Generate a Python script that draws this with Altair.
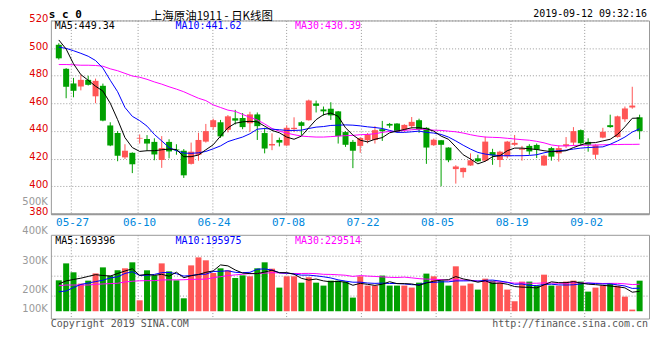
import altair as alt
import pandas as pd

# ---------------- data ----------------
dates = ["05-23", "05-24", "05-27", "05-28", "05-29", "05-30", "05-31",
         "06-03", "06-04", "06-05", "06-06", "06-10", "06-11", "06-12", "06-13", "06-14",
         "06-17", "06-18", "06-19", "06-20", "06-21", "06-24", "06-25", "06-26", "06-27", "06-28",
         "07-01", "07-02", "07-03", "07-04", "07-05", "07-08", "07-09", "07-10", "07-11", "07-12",
         "07-15", "07-16", "07-17", "07-18", "07-19", "07-22", "07-23", "07-24", "07-25", "07-26",
         "07-29", "07-30", "07-31", "08-01", "08-02", "08-05", "08-06", "08-07", "08-08", "08-09",
         "08-12", "08-13", "08-14", "08-15", "08-16", "08-19", "08-20", "08-21", "08-22", "08-23",
         "08-26", "08-27", "08-28", "08-29", "08-30", "09-02", "09-03", "09-04", "09-05", "09-06",
         "09-09", "09-10", "09-11", "09-12"]

open_ = [502.4, 485.0, 474.4, 472.2, 477.0, 465.1, 472.7, 444.0, 438.5, 420.9,
         424.2, 434.5, 434.2, 432.1, 419.0, 432.1, 426.6, 425.7, 416.2, 422.8,
         432.3, 442.8, 446.3, 440.9, 449.2, 449.4, 445.6, 452.0, 438.5, 429.5,
         433.5, 429.5, 441.4, 446.3, 447.8, 459.9, 455.6, 456.1, 454.2, 439.2,
         432.1, 429.2, 433.3, 433.5, 441.3, 445.1, 445.4, 440.9, 443.5, 447.8,
         442.3, 429.7, 433.3, 428.0, 412.4, 410.2, 415.0, 420.2, 418.5, 424.7,
         419.0, 421.6, 430.0, 426.4, 429.2, 429.9, 415.0, 427.6, 423.8, 429.0,
         431.6, 440.6, 432.1, 422.8, 435.2, 444.2, 435.6, 448.5, 457.0, 449.9]
high = [503.5, 485.5, 478.4, 480.8, 480.0, 477.9, 474.3, 446.3, 439.9, 430.4,
        424.5, 437.5, 437.0, 434.7, 436.3, 434.0, 430.4, 426.9, 431.6, 438.7,
        445.1, 448.9, 448.0, 451.5, 455.3, 453.0, 453.9, 453.4, 442.3, 438.3,
        435.2, 444.0, 449.9, 447.0, 462.7, 462.0, 457.7, 460.8, 454.5, 439.9,
        433.5, 435.6, 438.5, 443.5, 447.3, 445.8, 445.6, 444.9, 450.1, 448.9,
        442.7, 434.5, 433.5, 428.2, 415.2, 413.5, 423.8, 422.8, 435.9, 427.1,
        425.7, 432.8, 437.1, 429.2, 430.4, 430.9, 422.8, 428.5, 429.5, 435.6,
        442.8, 441.1, 434.7, 430.4, 442.3, 451.8, 451.1, 457.7, 472.0, 451.8]
low = [491.7, 463.7, 464.4, 469.4, 472.9, 460.1, 447.0, 429.0, 418.1, 419.7,
       409.5, 430.9, 425.7, 418.8, 413.3, 420.2, 422.8, 406.0, 415.7, 418.5,
       431.6, 440.9, 435.0, 439.0, 444.7, 441.3, 439.4, 433.5, 423.8, 426.1,
       428.8, 429.2, 439.4, 437.1, 447.5, 453.4, 451.1, 448.0, 430.9, 428.5,
       413.1, 424.2, 431.1, 430.9, 432.8, 442.3, 439.2, 439.2, 441.8, 438.7,
       416.2, 429.2, 400.0, 417.4, 401.9, 406.2, 414.8, 417.4, 417.8, 415.5,
       413.8, 420.2, 429.2, 418.5, 422.8, 420.4, 414.8, 418.5, 417.8, 427.6,
       429.2, 429.2, 425.0, 419.7, 434.7, 442.3, 435.2, 446.6, 456.1, 434.0]
close = [492.6, 472.0, 469.1, 477.0, 473.4, 476.3, 447.5, 429.5, 422.1, 425.7,
         415.9, 435.0, 430.9, 423.0, 427.6, 425.2, 426.0, 407.9, 425.0, 433.5,
         439.9, 447.8, 436.1, 450.6, 447.5, 442.8, 452.0, 443.5, 427.3, 430.6,
         431.6, 442.3, 442.3, 443.7, 462.0, 458.2, 454.2, 451.3, 436.3, 430.0,
         425.7, 434.9, 437.5, 440.6, 439.9, 443.9, 439.4, 444.4, 446.6, 441.1,
         428.0, 433.7, 430.0, 418.8, 414.3, 413.3, 418.8, 418.1, 432.3, 422.3,
         425.0, 432.3, 431.4, 427.3, 425.2, 426.4, 422.1, 421.4, 427.6, 430.4,
         439.9, 431.1, 430.0, 429.7, 439.4, 442.8, 450.6, 456.3, 458.4, 439.9]

ma5 = [505.9, 499.3, 488.6, 480.8, 476.7, 472.4, 468.9, 460.1, 448.2, 435.2,
       428.0, 425.2, 425.7, 425.7, 426.4, 426.9, 426.6, 421.4, 421.4, 422.6,
       426.4, 430.0, 436.3, 442.3, 445.6, 446.6, 447.0, 446.6, 443.5, 440.4,
       438.7, 435.6, 434.0, 436.3, 442.3, 448.2, 451.8, 453.0, 450.6, 442.3,
       437.1, 433.3, 432.1, 434.0, 435.2, 438.7, 439.9, 441.1, 442.3, 442.3,
       441.6, 439.9, 436.3, 434.0, 428.5, 422.8, 419.7, 416.2, 418.1, 421.4,
       422.1, 425.7, 427.6, 427.6, 427.1, 426.6, 425.7, 425.0, 425.2, 425.7,
       428.0, 429.9, 431.4, 431.6, 432.8, 434.0, 437.5, 443.0, 449.2, 449.34]
ma10 = [500.7, 499.8, 498.1, 496.2, 494.1, 491.0, 485.5, 476.7, 468.4, 457.0,
        450.6, 447.5, 443.5, 437.5, 432.8, 428.0, 425.7, 424.0, 423.8, 424.2,
        425.2, 427.1, 429.2, 432.3, 434.0, 435.6, 438.0, 441.3, 441.8, 441.3,
        440.9, 440.4, 440.4, 440.6, 441.8, 442.8, 443.2, 444.0, 444.2, 444.4,
        444.2, 443.7, 443.0, 442.5, 441.8, 440.4, 439.0, 439.0, 439.4, 439.9,
        439.0, 438.5, 437.5, 435.6, 432.8, 429.7, 426.9, 424.5, 423.3, 422.6,
        422.1, 422.1, 422.1, 422.1, 422.3, 422.8, 424.2, 425.2, 425.7, 426.1,
        426.9, 427.6, 428.0, 428.3, 428.5, 430.4, 432.8, 435.6, 439.2, 441.62]
ma30 = [488.1, 488.1, 487.9, 487.6, 487.6, 487.4, 486.9, 485.0, 483.6, 481.7,
        479.8, 478.9, 477.4, 475.5, 473.9, 472.0, 470.3, 468.4, 466.0, 463.7,
        462.0, 458.9, 457.0, 455.1, 454.2, 452.0, 449.9, 448.0, 445.1, 441.8,
        439.9, 438.5, 437.3, 436.3, 435.9, 435.6, 435.6, 435.9, 436.3, 436.6,
        436.8, 437.3, 437.5, 438.0, 439.0, 439.7, 439.9, 440.4, 440.9, 441.3,
        441.1, 440.6, 440.4, 439.9, 439.4, 438.5, 437.3, 436.3, 435.6, 435.4,
        435.2, 434.7, 434.2, 433.7, 433.3, 432.5, 431.4, 429.9, 429.2, 429.2,
        429.5, 429.7, 429.7, 429.9, 430.0, 430.1, 430.2, 430.3, 430.3, 430.39]

# volumes in thousands of lots
vol_k = [263, 407, 331, 235, 260, 322, 373, 303, 348, 365,
         416, 93, 348, 305, 407, 339, 263, 110, 390, 458,
         433, 325, 365, 348, 283, 305, 297, 365, 416, 362,
         201, 297, 297, 243, 288, 243, 218, 260, 260, 252,
         116, 297, 218, 218, 303, 218, 218, 218, 201, 243,
         320, 297, 260, 218, 382, 218, 235, 184, 277, 260,
         243, 184, 85, 252, 252, 218, 311, 218, 218, 252,
         260, 252, 167, 201, 218, 235, 218, 124, 14, 260]
vma5_k = [232, 258, 270, 281, 296, 311, 304, 299, 321, 342,
          361, 305, 314, 305, 314, 298, 332, 285, 302, 312,
          331, 343, 394, 386, 351, 325, 320, 320, 333, 349,
          328, 328, 315, 280, 265, 274, 258, 250, 254, 247,
          221, 237, 229, 220, 230, 251, 235, 235, 232, 220,
          240, 256, 264, 268, 295, 275, 263, 247, 259, 235,
          240, 230, 210, 205, 203, 198, 224, 250, 243, 243,
          252, 240, 230, 226, 220, 215, 208, 199, 162, 169.396]
vma10_k = [166, 172, 202, 228, 240, 252, 264, 283, 293, 321,
           336, 305, 306, 313, 328, 330, 319, 299, 304, 313,
           315, 338, 340, 344, 331, 328, 331, 357, 360, 350,
           327, 324, 317, 307, 307, 301, 293, 283, 267, 256,
           247, 247, 240, 237, 239, 236, 236, 232, 226, 225,
           245, 245, 250, 250, 258, 258, 259, 256, 263, 265,
           257, 246, 229, 232, 219, 219, 227, 230, 224, 223,
           225, 232, 240, 235, 232, 233, 224, 215, 194, 195.975]
vma30_k = [217, 223, 223, 223, 223, 229, 232, 235, 238, 249,
           255, 259, 260, 260, 266, 267, 267, 268, 271, 272,
           273, 285, 294, 303, 309, 315, 320, 321, 324, 328,
           326, 322, 321, 321, 322, 320, 314, 313, 310, 306,
           296, 303, 299, 296, 292, 288, 287, 290, 284, 277,
           273, 272, 269, 264, 268, 265, 263, 257, 252, 249,
           250, 246, 239, 240, 238, 238, 241, 239, 238, 238,
           243, 241, 239, 239, 236, 237, 237, 233, 227, 229.514]

tick_labels = ["05-27", "06-10", "06-24", "07-08", "07-22", "08-05", "08-19", "09-02"]
price_ticks = [380, 400, 420, 440, 460, 480, 500, 520]
vol_grid = [135700, 305300, 474900]
vol_label_text = ["100K", "200K", "300K", "400K", "500K"]
vol_label_at = [17000, 181000, 424000, 678000, 932000]

ticker = "s c 0"
title_text = "上海原油1911  -  日K线图"
stamp = "2019-09-12 09:32:16"
copyright_text = "Copyright 2019 SINA.COM"
url_text = "http://finance.sina.com.cn"

for arr in (open_, high, low, close, ma5, ma10, ma30, vol_k, vma5_k, vma10_k, vma30_k):
    assert len(arr) == len(dates), len(arr)

# ---------------- table ----------------
n = len(dates)
df = pd.DataFrame({
    "i": list(range(n)), "date": dates,
    "open": open_, "high": high, "low": low, "close": close,
    "ma5": ma5, "ma10": ma10, "ma30": ma30,
    "vol": [v * 1000 for v in vol_k],
    "vma5": [v * 1000 for v in vma5_k],
    "vma10": [v * 1000 for v in vma10_k],
    "vma30": [v * 1000 for v in vma30_k],
})
df["dir"] = ["up" if c >= o else "down" for o, c in zip(open_, close)]

# ---------------- style ----------------
W, H1, H2 = 600, 194, 84
RED, GREEN = "#ff5555", "#00a000"
GRID = "#999999"
MONO = "DejaVu Sans Mono"
SANS = "DejaVu Sans"
CJK = "Noto Sans CJK SC"
XLAB = "#0088dd"

tick_idx = [dates.index(t) for t in tick_labels]
tick_pos = [i - 0.4 + (i - tick_idx[0]) / 75 for i in tick_idx]
label_expr = "".join(
    "abs(datum.value - %.4f) < 0.5 ? '%s' : " % (p, lab) for p, lab in zip(tick_pos, tick_labels)
) + "''"

xscale = alt.Scale(domain=[-0.4, n - 0.4], nice=False, zero=False)
color = alt.Color("dir:N", scale=alt.Scale(domain=["up", "down"], range=[RED, GREEN]), legend=None)

# ---------------- main (price) panel ----------------
x_main = alt.X("i:Q", scale=xscale, axis=alt.Axis(
    values=tick_pos, labelExpr=label_expr, grid=True, gridColor=GRID, gridDash=[1, 2],
    ticks=False, tickSize=0, domain=True, domainColor="#999999", domainWidth=2,
    labelColor=XLAB, labelFont=MONO, labelFontSize=11, labelPadding=3, labelOffset=1.5,
    labelFlush=False, labelOverlap=False, title=None))
yscale = alt.Scale(domain=[380, 520], nice=False, zero=False)
yaxis = alt.Axis(values=price_ticks, grid=True, gridColor=GRID, gridDash=[1, 2],
                 ticks=False, tickSize=0, domain=False, labelColor="#e00000",
                 labelFont=SANS, labelFontSize=10, labelPadding=3, labelOffset=-2, title=None)


def ym(field):
    return alt.Y(field, scale=yscale, axis=yaxis)


base = alt.Chart(df)
wick = base.mark_rule(strokeWidth=1).encode(x=x_main, y=ym("low:Q"), y2="high:Q", color=color)
body = base.mark_bar(size=6).encode(x=x_main, y=ym("open:Q"), y2="close:Q", color=color)
l5 = base.mark_line(color="#000000", strokeWidth=1).encode(x=x_main, y=ym("ma5:Q"))
l10 = base.mark_line(color="#0000ff", strokeWidth=1).encode(x=x_main, y=ym("ma10:Q"))
l30 = base.mark_line(color="#ff00ff", strokeWidth=1).encode(x=x_main, y=ym("ma30:Q"))


def label(txt, x, y, col="#000000", size=10, font=MONO, align="left", weight="normal"):
    return alt.Chart(pd.DataFrame({"t": [txt]})).mark_text(
        align=align, baseline="middle", font=font, fontSize=size, color=col, fontWeight=weight
    ).encode(x=alt.value(x), y=alt.value(y), text="t:N")


anchor = alt.Chart(pd.DataFrame({"a": [0]})).mark_rule(opacity=0, strokeWidth=0.01).encode(
    x=alt.value(-42), y=alt.value(-11), y2=alt.value(0))

main = alt.layer(
    anchor, wick, body, l30, l10, l5,
    label("MA5:%.2f" % ma5[-1], 4, 5.5),
    label("MA10:%.2f" % ma10[-1], 125, 5.5, "#0000ff"),
    label("MA30:%.2f" % ma30[-1], 245, 5.5, "#ff00ff"),
    label(ticker, -2, -5, size=11, weight="bold"),
    label(title_text, 161.5, -3.9, size=11.5, font=CJK, align="center"),
    label(stamp, 598, -6, align="right"),
).properties(width=W, height=H1)

# ---------------- volume panel ----------------
x_vol = alt.X("i:Q", scale=xscale, axis=alt.Axis(
    values=tick_pos, labels=False, grid=True, gridColor=GRID, gridDash=[1, 2],
    ticks=False, tickSize=0, domain=False, title=None))
vscale = alt.Scale(domain=[-62000, 650000], nice=False, zero=False)
vaxis = alt.Axis(values=vol_grid, labels=False, grid=True, gridColor=GRID, gridDash=[1, 2],
                 ticks=False, tickSize=0, domain=False, title=None)


def yv(field):
    return alt.Y(field, scale=vscale, axis=vaxis)


vbars = base.mark_bar(size=6).encode(x=x_vol, y=yv("vol:Q"), y2=alt.datum(0), color=color)
v5 = base.mark_line(color="#000000", strokeWidth=1).encode(x=x_vol, y=yv("vma5:Q"))
v10 = base.mark_line(color="#0000ff", strokeWidth=1).encode(x=x_vol, y=yv("vma10:Q"))
v30 = base.mark_line(color="#ff00ff", strokeWidth=1).encode(x=x_vol, y=yv("vma30:Q"))
vlabels = alt.Chart(pd.DataFrame({"t": vol_label_text, "v": vol_label_at})).mark_text(
    align="right", baseline="middle", font=SANS, fontSize=10, color="#999999"
).encode(x=alt.value(-3), y=yv("v:Q"), text="t:N")

vol = alt.layer(
    vbars, v30, v10, v5, vlabels,
    label("MA5:%d" % round(vma5_k[-1] * 1000), 4.5, 6),
    label("MA10:%d" % round(vma10_k[-1] * 1000), 125, 6, "#0000ff"),
    label("MA30:%d" % round(vma30_k[-1] * 1000), 245, 6, "#ff00ff"),
    label(copyright_text, 0, 89, "#555555"),
    label(url_text, 599, 89, "#555555", align="right"),
).properties(width=W, height=H2)

chart = alt.vconcat(main, vol, spacing=21, bounds="flush").properties(
    padding={"left": 0, "top": 0, "right": 2, "bottom": 2}
).configure_view(stroke="#999999", strokeWidth=1)

chart.save("out.html", embed_options={"renderer": "svg", "actions": False})
